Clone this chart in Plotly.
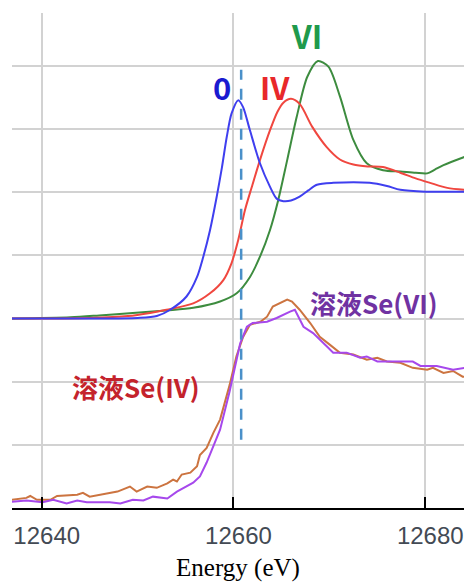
import plotly.graph_objects as go

# ---- data ----
e_se0 = [12636.9, 12645.0, 12650.0, 12652.0, 12653.4, 12655.1, 12656.2, 12656.85, 12657.55,
         12658.25, 12658.8, 12659.3, 12659.8, 12660.5, 12661.0, 12661.7, 12662.76, 12663.8,
         12664.5, 12665.2, 12666.0, 12666.9, 12667.8, 12668.7, 12670.4, 12674.2, 12676.0,
         12677.4, 12680.0, 12684.1]
y_se0 = [3.0, 3.0, 3.01, 3.04, 3.14, 3.35, 3.66, 3.98, 4.40,
         4.93, 5.40, 5.88, 6.25, 6.46, 6.35, 5.99, 5.46, 5.09,
         4.90, 4.86, 4.87, 4.93, 5.03, 5.12, 5.15, 5.15, 5.10,
         5.04, 5.01, 5.01]

e_se4 = [12636.9, 12645.0, 12649.0, 12651.3, 12653.0, 12655.8, 12657.55, 12658.94, 12659.8,
         12660.5, 12661.2, 12661.9, 12662.8, 12663.8, 12664.6, 12665.2, 12666.0, 12666.9,
         12668.2, 12669.7, 12671.1, 12672.5, 12674.0, 12675.6, 12677.4, 12679.0, 12680.5,
         12682.3, 12684.1]
y_se4 = [3.0, 3.01, 3.04, 3.09, 3.14, 3.24, 3.40, 3.61, 3.88,
         4.25, 4.72, 5.08, 5.53, 5.98, 6.28, 6.42, 6.48, 6.40,
         6.04, 5.72, 5.52, 5.44, 5.41, 5.40, 5.31, 5.22, 5.15,
         5.07, 5.04]

e_se6 = [12636.9, 12643.0, 12646.0, 12649.5, 12653.0, 12655.8, 12658.6, 12660.33, 12661.72,
         12662.76, 12663.8, 12664.67, 12665.6, 12666.6, 12667.7, 12668.8, 12669.9, 12671.1,
         12672.5, 12673.9, 12675.6, 12677.4, 12679.0, 12680.2, 12681.0, 12681.9, 12684.1]
y_se6 = [3.0, 3.02, 3.05, 3.09, 3.13, 3.17, 3.27, 3.40, 3.66,
         3.98, 4.40, 4.88, 5.51, 6.20, 6.83, 7.08, 6.99, 6.52,
         5.83, 5.46, 5.35, 5.33, 5.31, 5.30, 5.36, 5.43, 5.56]

e_sol4 = [12636.9, 12638.4, 12638.8, 12639.5, 12640.9, 12641.6, 12643.7, 12644.3, 12645.0,
          12646.1, 12647.9, 12649.2, 12649.9, 12651.0, 12652.0, 12653.1, 12653.7, 12654.1,
          12654.6, 12655.5, 12656.2, 12656.5, 12657.2, 12657.9, 12658.6, 12659.6, 12660.3,
          12661.0, 12661.7, 12662.8, 12663.5, 12664.1, 12665.6, 12666.1, 12666.9, 12668.0,
          12669.0, 12670.1, 12671.1, 12672.5, 12673.9, 12675.0, 12676.0, 12677.4, 12678.7,
          12680.2, 12680.8, 12681.9, 12682.9, 12683.9, 12684.2]
y_sol4 = [0.13, 0.16, 0.19, 0.13, 0.13, 0.19, 0.21, 0.24, 0.18,
          0.21, 0.26, 0.34, 0.26, 0.34, 0.32, 0.39, 0.45, 0.42,
          0.53, 0.56, 0.66, 0.84, 0.95, 1.19, 1.40, 1.95, 2.40,
          2.71, 2.90, 2.95, 3.03, 3.19, 3.30, 3.27, 3.14, 2.93,
          2.71, 2.58, 2.46, 2.43, 2.35, 2.38, 2.32, 2.30, 2.22,
          2.19, 2.22, 2.14, 2.17, 2.08, 2.08]

e_sol6 = [12636.9, 12638.4, 12640.1, 12641.2, 12642.6, 12643.7, 12644.7, 12647.1, 12648.2,
          12649.5, 12650.6, 12651.6, 12653.1, 12654.1, 12655.8, 12656.5, 12657.2, 12657.9,
          12658.6, 12659.6, 12660.7, 12661.4, 12662.0, 12663.5, 12664.5, 12665.9, 12666.4,
          12667.3, 12668.3, 12669.8, 12670.4, 12671.8, 12673.2, 12673.9, 12675.0, 12677.4,
          12678.7, 12679.5, 12681.2, 12682.9, 12684.2]
y_sol6 = [0.10, 0.12, 0.09, 0.13, 0.07, 0.12, 0.09, 0.09, 0.07,
          0.13, 0.12, 0.18, 0.15, 0.26, 0.40, 0.50, 0.72, 0.97,
          1.24, 1.85, 2.61, 2.87, 2.93, 2.95, 3.01, 3.11, 3.14,
          2.87, 2.77, 2.55, 2.46, 2.46, 2.38, 2.40, 2.32, 2.32,
          2.32, 2.25, 2.25, 2.19, 2.22]

ref_energy = 12660.8        # dashed reference line
ref_y = [1.08, 6.94]

x_ticks = [12640, 12660, 12680]
x_tick_text = ["12640", "12660", "12680"]

# ---- figure ----
fig = go.Figure()

def add_line(x, y, color, shape="linear"):
    fig.add_trace(go.Scatter(x=x, y=y, mode="lines",
                             line=dict(color=color, width=2, shape=shape, smoothing=0.8),
                             showlegend=False, hoverinfo="skip"))

add_line(e_sol4, y_sol4, "#cc7440")
add_line(e_sol6, y_sol6, "#a648ec")
add_line(e_se6, y_se6, "#3d8c3f", "spline")
add_line(e_se4, y_se4, "#f0473f", "spline")
add_line(e_se0, y_se0, "#3f3fef", "spline")

fig.add_trace(go.Scatter(x=[ref_energy, ref_energy], y=ref_y, mode="lines",
                         line=dict(color="#4a90c9", width=2.5, dash="11px,9px"),
                         showlegend=False, hoverinfo="skip"))

ann_font = "Noto Sans CJK JP"
labels = [
    ("0", 12658.8, 6.67, "#1a1ad0", 31),
    ("IV", 12664.33, 6.67, "#e8282a", 31),
    ("VI", 12667.66, 7.49, "#1f9a4c", 32),
    ("溶液Se(VI)", 12674.65, 3.25, "#7032a2", 26),
    ("溶液Se(IV)", 12649.83, 1.92, "#c4232c", 26),
]
for text, x, y, col, size in labels:
    fig.add_annotation(x=x, y=y, text="<b>" + text + "</b>", showarrow=False,
                       xanchor="center", yanchor="middle",
                       font=dict(family=ann_font, size=size, color=col))

fig.update_layout(
    width=464, height=585,
    margin=dict(l=12, r=0, t=13, b=77),
    paper_bgcolor="white", plot_bgcolor="white",
    xaxis=dict(range=[12636.9, 12684.04], tickvals=x_ticks, ticktext=x_tick_text,
               showgrid=True, gridcolor="#d2d2d2", gridwidth=2,
               showline=True, linecolor="black", linewidth=2,
               ticks="inside", ticklen=11, tickwidth=2, tickcolor="black",
               zeroline=False, ticklabelshift=5, ticklabelstandoff=5,
               tickfont=dict(family="Liberation Sans", size=24, color="#434a54"),
               title=dict(text="Energy (eV)", standoff=11,
                          font=dict(family="Liberation Serif", size=25, color="black"))),
    yaxis=dict(range=[0, 7.84], dtick=1, tick0=0, showticklabels=False,
               showgrid=True, gridcolor="#d2d2d2", gridwidth=2,
               zeroline=False, showline=False, ticks=""),
)

fig.write_html("out.html", config={"displayModeBar": False},
               post_script="document.body.style.margin='0';document.body.style.overflow='hidden';")
